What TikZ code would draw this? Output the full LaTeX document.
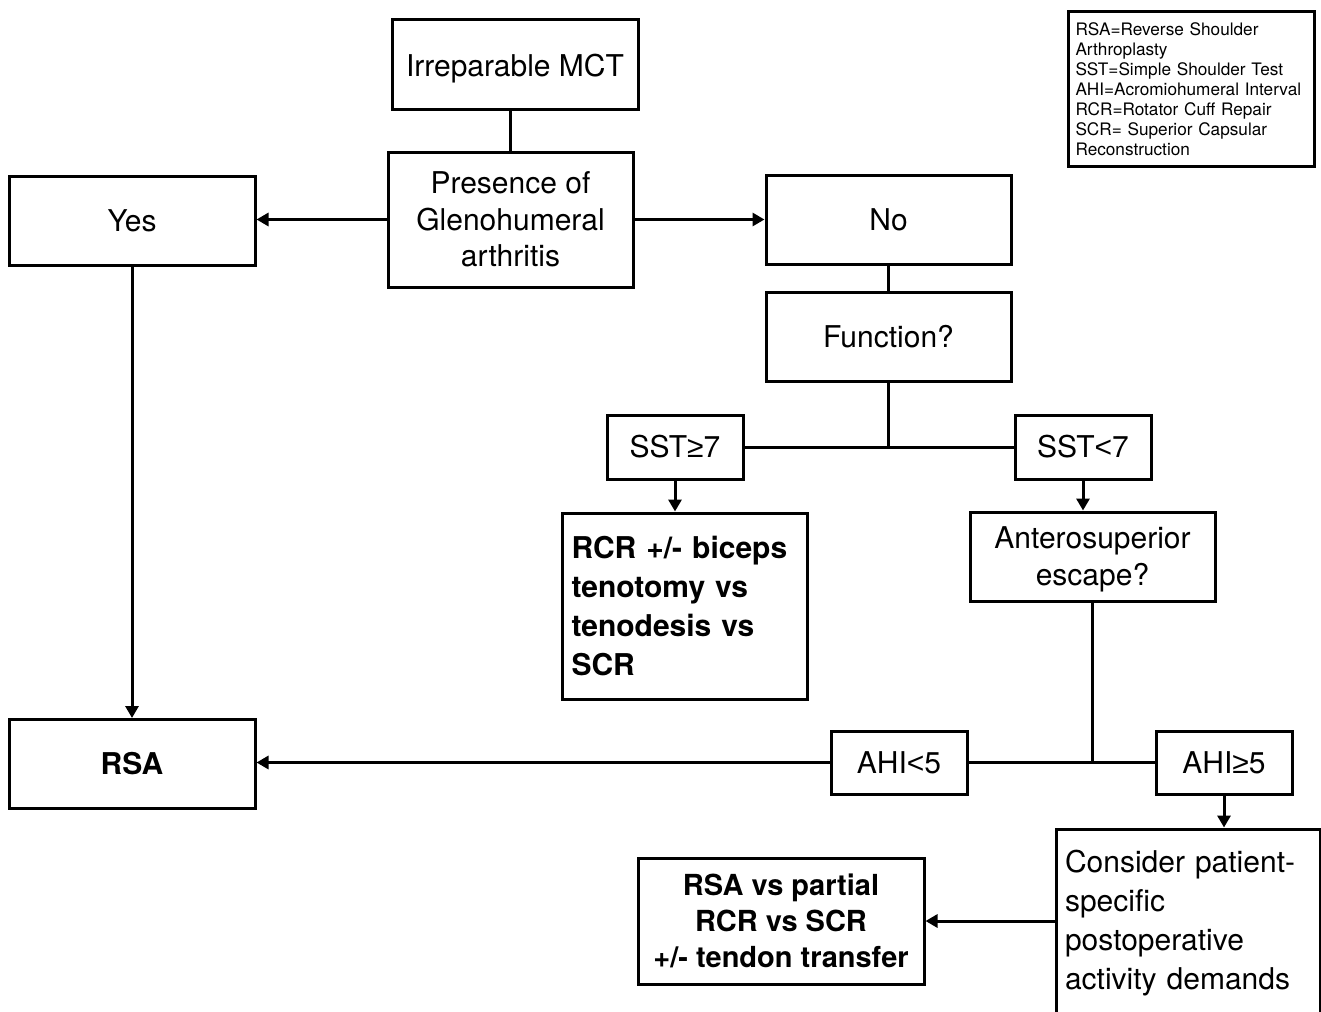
\documentclass[tikz,border=0pt]{standalone}
\usepackage{fontspec}
\setmainfont{TeX Gyre Heros}
\newfontfamily\symfont{Liberation Sans}
\usetikzlibrary{arrows.meta}
\newcommand{\gesym}{{\symfont ≥}}
\newcommand{\ltsym}{{\symfont <}}
\begin{document}
\begin{tikzpicture}[x=0.5pt,y=-0.5pt,
  box/.style={draw, line width=1.5pt, inner sep=0pt, align=center,
    font=\fontsize{15}{18.5}\selectfont},
  sz/.style 2 args={minimum width={#1*0.5pt}, minimum height={#2*0.5pt}},
  conn/.style={line width=1.5pt},
  arr/.style={line width=1.5pt, -{Triangle[length=6pt,width=6.5pt]}}]
\useasboundingbox (0,0) rectangle (1321,1011);

\node[box, sz={246}{90}, text depth=-1.5pt] (mct) at (515,65) {Irreparable MCT};
\node[box, sz={245}{135}, font=\fontsize{15}{18.25}\selectfont] (pres) at (510.5,219.5) {Presence of\\Glenohumeral\\arthritis};
\node[box, sz={246}{89}] (yes) at (132,220.5) {Yes};
\node[box, sz={245}{89}] (no) at (888.5,219.5) {No};
\node[box, sz={245}{89}] (func) at (888.5,336.5) {Function?};
\node[box, sz={136}{64}] (sst1) at (675,447) {SST\gesym7};
\node[box, sz={136}{64}] (sst2) at (1083,447) {SST\ltsym7};
\node[box, sz={245}{186}, align=left, inner xsep=4.5pt, text width=113pt,
  font=\fontsize{15}{19.5}\selectfont\bfseries] (rcr) at (684.5,606)
  {RCR +/- biceps\\tenotomy vs\\tenodesis vs\\SCR};
\node[box, sz={245}{89}, text depth=-2pt] (ant) at (1092.5,556.5) {Anterosuperior\\escape?};
\node[box, sz={246}{89}, font=\fontsize{15}{18.5}\selectfont\bfseries] (rsa) at (132,764) {RSA};
\node[box, sz={136}{63}] (ahi1) at (899,762.5) {AHI\ltsym5};
\node[box, sz={136}{63}] (ahi2) at (1224,762.5) {AHI\gesym5};
\node[box, sz={264}{188}, align=left, inner xsep=4.5pt, text width=123pt,
  font=\fontsize{15}{19.6}\selectfont] (cons) at (1188,923)
  {Consider patient-\\specific\\postoperative\\activity demands};
\node[box, sz={286}{126}, font=\fontsize{14.5}{18}\selectfont\bfseries] (rsavs) at (781,921)
  {RSA vs partial\\RCR vs SCR\\+/- tendon transfer};
\node[box, sz={245}{154}, align=left, inner xsep=3.5pt, text width=116pt,
  font=\fontsize{8.6}{10}\selectfont] (legend) at (1191.5,89)
  {\hyphenpenalty=10000\relax RSA=Reverse Shoulder\\Arthroplasty\\SST=Simple Shoulder Test\\AHI=Acromiohumeral Interval\\RCR=Rotator Cuff Repair\\SCR= Superior Capsular\\Reconstruction};

\draw[conn] (pres.north) -- (pres.north |- mct.south);
\draw[arr] (pres.west) -- (pres.west -| yes.east);
\draw[arr] (pres.east) -- (pres.east -| no.west);
\draw[conn] (no.south) -- (func.north);
\draw[conn] (func.south) -- (func.south |- sst1.east);
\draw[conn] (sst1.east) -- (sst2.west);
\draw[arr] (sst1.south) -- (sst1.south |- rcr.north);
\draw[arr] (sst2.south) -- (sst2.south |- ant.north);
\draw[arr] (yes.south) -- (rsa.north);
\draw[conn] (ant.south) -- (ant.south |- ahi1.east);
\draw[conn] (ahi1.east) -- (ahi2.west);
\draw[arr] (ahi1.west) -- (ahi1.west -| rsa.east);
\draw[arr] (ahi2.south) -- (ahi2.south |- cons.north);
\draw[arr] (cons.west |- rsavs.east) -- (rsavs.east);
\end{tikzpicture}
\end{document}
